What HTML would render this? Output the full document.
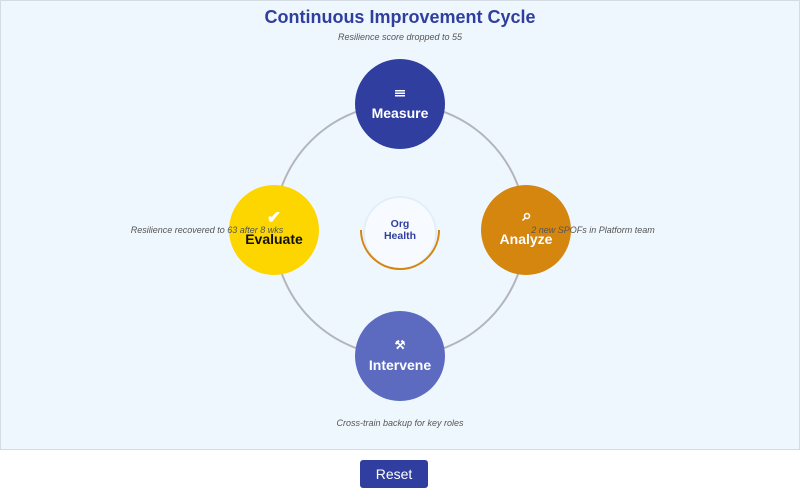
<!DOCTYPE html>
<html><head><meta charset="utf-8"><style>
body{margin:0;width:800px;height:502px;background:#fff;font-family:"Liberation Sans",sans-serif;overflow:hidden;position:relative}
.panel{position:absolute;left:0;top:0;width:798px;height:448px;background:#eff7fe;border:1px solid #d4dbe2}
.btn{position:absolute;left:360px;top:460px;width:68px;height:28px;background:#303f9f;color:#fff;border-radius:3px;font-size:14px;text-align:center;line-height:28px}
</style></head><body>
<div class="panel"></div>
<svg width="800" height="502" style="position:absolute;left:0;top:0" font-family="Liberation Sans, sans-serif">
<text x="400" y="23" text-anchor="middle" font-size="18" font-weight="bold" fill="#303f9f">Continuous Improvement Cycle</text>
<text x="400" y="40" text-anchor="middle" font-size="9" font-style="italic" fill="#555">Resilience score dropped to 55</text>
<circle cx="400" cy="230" r="126" fill="none" stroke="#b3b6bb" stroke-width="2"/>
<circle cx="400" cy="233" r="36" fill="#f7fbff" stroke="#e4eef8" stroke-width="2"/>
<path d="M361 230 A39 39 0 0 0 439 230" fill="none" stroke="#d4860f" stroke-width="2"/>
<text x="400" y="227" text-anchor="middle" font-size="10.5" font-weight="bold" fill="#303f9f">Org</text>
<text x="400" y="239" text-anchor="middle" font-size="10.5" font-weight="bold" fill="#303f9f">Health</text>
<circle cx="400" cy="104" r="45" fill="#303f9f"/>
<rect x="395" y="90" width="10" height="1.5" fill="#fff"/><rect x="395" y="92.5" width="10" height="1.5" fill="#fff"/><rect x="395" y="95" width="10" height="1.5" fill="#fff"/>
<text x="400" y="118" text-anchor="middle" font-size="14" font-weight="bold" fill="#fff">Measure</text>
<circle cx="526" cy="230" r="45" fill="#d4860f"/>
<circle cx="527" cy="216" r="2.5" fill="none" stroke="#fff" stroke-width="1.5"/><line x1="525" y1="218" x2="522.5" y2="220.5" stroke="#fff" stroke-width="1.5"/>
<text x="526" y="244" text-anchor="middle" font-size="14" font-weight="bold" fill="#fff">Analyze</text>
<circle cx="400" cy="356" r="45" fill="#5c6bc0"/>
<text x="400" y="349" text-anchor="middle" font-size="12" font-weight="bold" fill="#fff">⚒</text>
<text x="400" y="370" text-anchor="middle" font-size="14" font-weight="bold" fill="#fff">Intervene</text>
<circle cx="274" cy="230" r="45" fill="#fdd600"/>
<text x="274" y="223" text-anchor="middle" font-size="17" font-weight="bold" fill="#fff">✔</text>
<text x="274" y="244" text-anchor="middle" font-size="14" font-weight="bold" fill="#111">Evaluate</text>
<text x="207" y="233" text-anchor="middle" font-size="9" font-style="italic" fill="#555">Resilience recovered to 63 after 8 wks</text>
<text x="593" y="233" text-anchor="middle" font-size="9" font-style="italic" fill="#555">2 new SPOFs in Platform team</text>
<text x="400" y="426" text-anchor="middle" font-size="9" font-style="italic" fill="#555">Cross-train backup for key roles</text>
</svg>
<div class="btn">Reset</div>
</body></html>
